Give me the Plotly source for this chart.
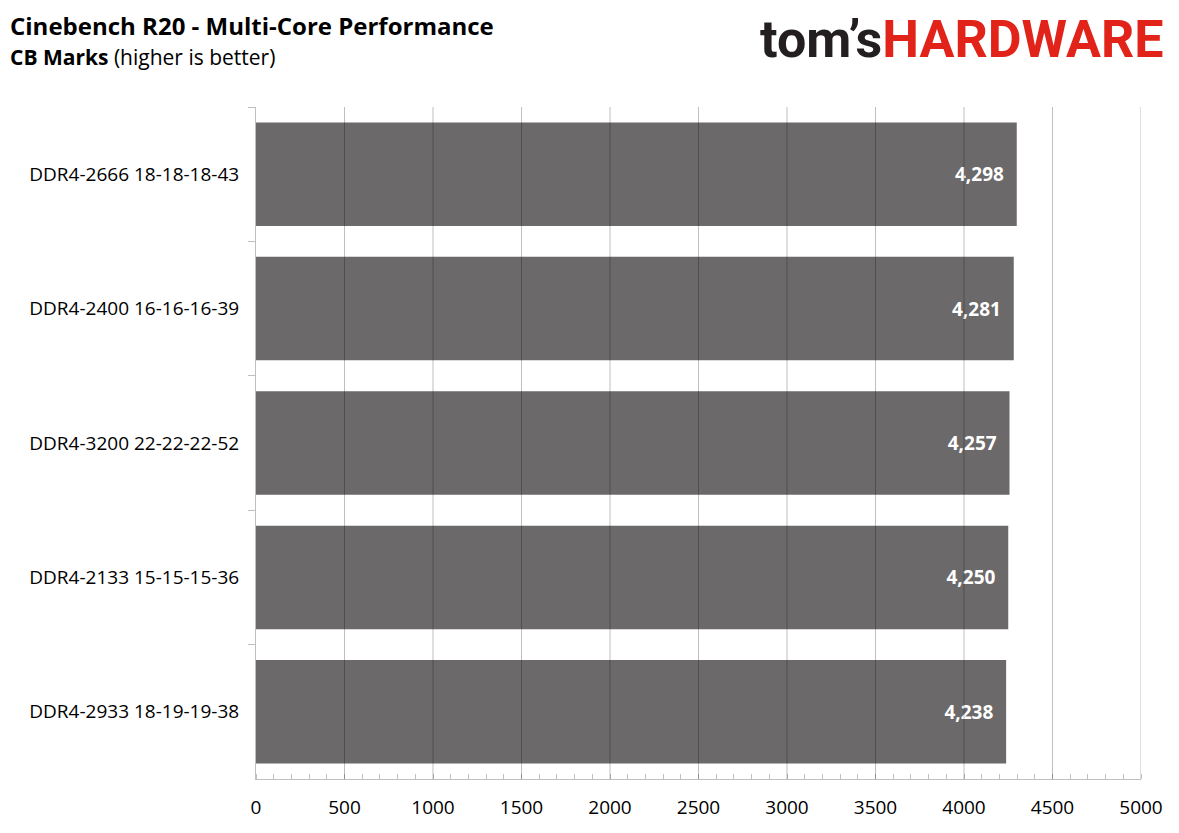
import plotly.graph_objects as go

# memory configs, top to bottom as in the chart
configs = [
    "DDR4-2666 18-18-18-43",
    "DDR4-2400 16-16-16-39",
    "DDR4-3200 22-22-22-52",
    "DDR4-2133 15-15-15-36",
    "DDR4-2933 18-19-19-38",
]
scores = [4298, 4281, 4257, 4250, 4238]

x_ticks = [0, 500, 1000, 1500, 2000, 2500, 3000, 3500, 4000, 4500, 5000]

bar_color = "#6b6969"
font_main = "Open Sans"

fig = go.Figure(
    go.Bar(
        x=scores,
        y=configs,
        orientation="h",
        marker=dict(color=bar_color, line=dict(width=0)),
        width=0.77,
        texttemplate="%{x:,}\u00a0\u00a0",
        textposition="inside",
        insidetextanchor="end",
        textfont=dict(family=font_main, size=19, color="white", weight="bold"),
        cliponaxis=False,
    )
)

# gridlines drawn over the bars, like the original
for t in x_ticks[1:]:
    fig.add_shape(
        type="line", xref="x", yref="paper",
        x0=t, x1=t, y0=0, y1=1,
        line=dict(color="rgba(0,0,0,0.25)", width=1),
        layer="above",
    )

fig.update_layout(
    width=1179,
    height=833,
    paper_bgcolor="white",
    plot_bgcolor="white",
    # page body adds 8px, so margins are shifted by that
    margin=dict(l=248, r=46, t=99, b=62),
    showlegend=False,
    font=dict(family=font_main, color="#000000"),
    xaxis=dict(
        range=[0, 5000],
        tickvals=x_ticks,
        ticktext=[str(t) for t in x_ticks],
        tickfont=dict(size=19, color="#000000"),
        showgrid=False,
        zeroline=False,
        showline=True,
        linecolor="#bfbfbf",
        linewidth=1,
        ticks="",
        ticklabelstandoff=11,
        minor=dict(dtick=100, ticks="inside", ticklen=5, tickcolor="#bfbfbf", showgrid=False),
    ),
    yaxis=dict(
        autorange="reversed",
        showline=True,
        linecolor="#bfbfbf",
        linewidth=1,
        ticks="outside",
        tickson="boundaries",
        ticklen=7,
        tickcolor="#bfbfbf",
        tickfont=dict(size=19, color="#000000"),
        showgrid=False,
        ticklabelstandoff=12,
    ),
    annotations=[
        dict(
            xref="paper", yref="paper", x=-0.2805, y=1.122,
            xanchor="left", yanchor="middle", showarrow=False,
            text="<b>Cinebench R20 - Multi-Core Performance</b>",
            font=dict(family=font_main, size=24, color="#000000"),
        ),
        dict(
            xref="paper", yref="paper", x=-0.2805, y=1.074,
            xanchor="left", yanchor="middle", showarrow=False,
            text="<b>CB Marks</b> (higher is better)",
            font=dict(family=font_main, size=21, color="#000000"),
        ),
        dict(
            xref="paper", yref="paper", x=1.027, y=1.100,
            xanchor="right", yanchor="middle", showarrow=False,
            text="<span style='color:#231f20'>tom’s</span><span style='color:#e2231a'>HARDWARE</span>",
            font=dict(family="Roboto", size=52, weight="bold"),
        ),
    ],
)

fig.write_html("out.html")
